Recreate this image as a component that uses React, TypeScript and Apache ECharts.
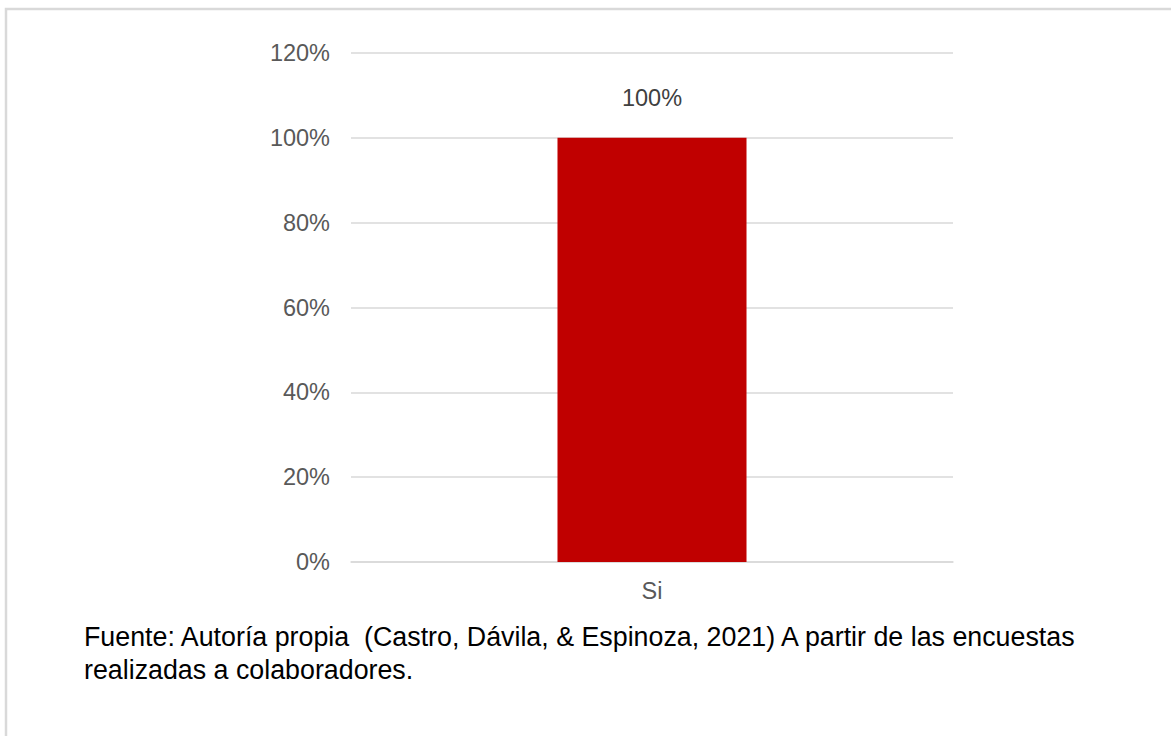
import React, { useEffect, useRef } from "react";
import * as echarts from "echarts";

const categories = ["Si"];
const values = [1.0];
const yTicks = { min: 0, max: 1.2, interval: 0.2 };
const captionLines = [
  "Fuente: Autoría propia  (Castro, Dávila, & Espinoza, 2021) A partir de las encuestas",
  "realizadas a colaboradores.",
];

export default function App() {
  const ref = useRef<HTMLDivElement>(null);
  useEffect(() => {
    if (!ref.current) return;
    const chart = echarts.init(ref.current, undefined, { renderer: "svg" });
    const font = "Liberation Sans, Arial, sans-serif";
    chart.setOption({
      animation: false,
      backgroundColor: "#ffffff",
      grid: { left: 351, right: 218, top: 53, bottom: 174 },
      xAxis: {
        type: "category",
        data: categories,
        axisLine: { show: true, lineStyle: { color: "#d9d9d9", width: 1.5 } },
        axisTick: { show: false },
        axisLabel: { color: "#595959", fontSize: 23.5, fontFamily: font, margin: 17 },
      },
      yAxis: {
        type: "value",
        min: yTicks.min,
        max: yTicks.max,
        interval: yTicks.interval,
        axisLine: { show: false },
        axisTick: { show: false },
        splitLine: { lineStyle: { color: "#d9d9d9", width: 1.5 } },
        axisLabel: {
          color: "#595959",
          fontSize: 23.5,
          fontFamily: font,
          margin: 21,
          formatter: (v: number) => Math.round(v * 100) + "%",
        },
      },
      series: [
        {
          type: "bar",
          data: values,
          barWidth: "31.4%",
          itemStyle: { color: "#C00000" },
          label: {
            show: true,
            position: "top",
            distance: 28,
            color: "#404040",
            fontSize: 23.5,
            fontFamily: font,
            formatter: (p: any) => Math.round(p.value * 100) + "%",
          },
        },
      ],
      graphic: [
        {
          type: "rect",
          shape: { x: 6, y: 9, width: 1180, height: 740 },
          style: { fill: "none", stroke: "#d9d9d9", lineWidth: 2.5 },
          silent: true,
        },
        ...captionLines.map((t, i) => ({
          type: "text",
          x: 84,
          y: 637 + i * 33,
          style: {
            text: t,
            fill: "#000000",
            fontSize: 26.8,
            fontFamily: font,
            textVerticalAlign: "middle",
          },
        })),
      ],
    });
    return () => chart.dispose();
  }, []);
  return (
    <div
      ref={ref}
      style={{ position: "fixed", left: 0, top: 0, width: 1171, height: 736 }}
    />
  );
}
